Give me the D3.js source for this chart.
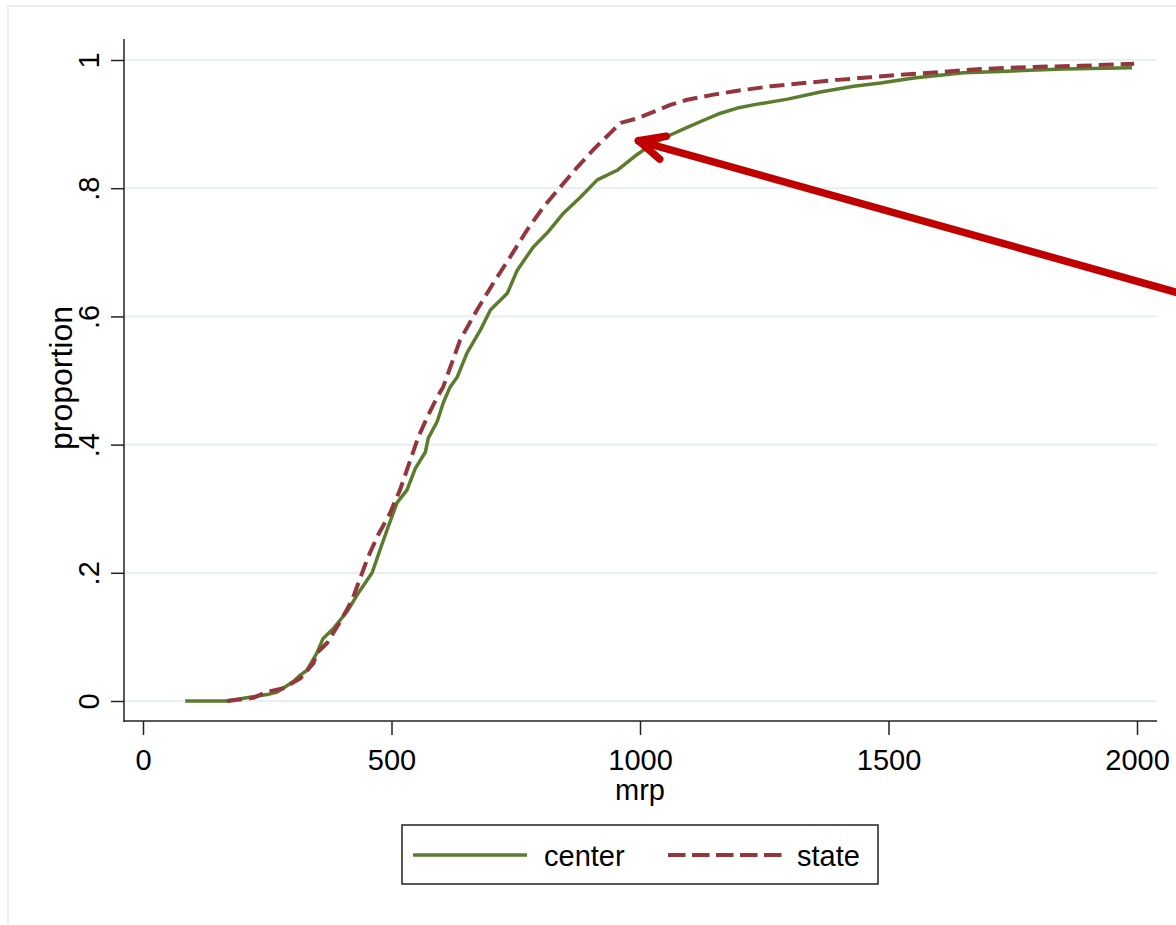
<!DOCTYPE html>
<html>
<head>
<meta charset="utf-8">
<script src="https://cdn.jsdelivr.net/npm/d3@7"></script>
<style>
  html, body { margin: 0; padding: 0; background: #fff; }
  svg { display: block; font-family: "Liberation Sans", Arial, sans-serif; }
</style>
</head>
<body>
<div id="chart"></div>
<script>
  // cumulative distribution of mrp
  var centerX = [85, 169, 215, 250, 270, 302, 316, 330, 350, 362, 383, 411, 433, 461, 477, 493, 511, 531, 548, 568,
    574, 592, 604, 618, 632, 652, 679, 699, 733, 753, 785, 813, 846, 880, 914, 954, 995, 1027, 1061, 1095,
    1128, 1162, 1196, 1228, 1297, 1363, 1430, 1484, 1551, 1651, 1752, 1853, 1990];
  var centerP = [0, 0, 0.006, 0.01, 0.014, 0.03, 0.04, 0.048, 0.075, 0.097, 0.113, 0.14, 0.168, 0.2, 0.236, 0.271, 0.309, 0.329, 0.363, 0.388,
    0.41, 0.436, 0.465, 0.49, 0.505, 0.543, 0.579, 0.61, 0.636, 0.672, 0.708, 0.73, 0.761, 0.786, 0.813, 0.828, 0.853, 0.87, 0.883, 0.895,
    0.906, 0.917, 0.925, 0.93, 0.939, 0.95, 0.959, 0.964, 0.972, 0.98, 0.983, 0.986, 0.988];

  var stateX = [169, 222, 249, 282, 316, 343, 350, 370, 397, 421, 441, 453, 473, 497, 517, 538, 554, 572, 592, 604,
    638, 672, 705, 739, 773, 806, 840, 874, 906, 940, 961, 995, 1027, 1061, 1095, 1148, 1196, 1263, 1329, 1397,
    1464, 1524, 1585, 1686, 1786, 1887, 1994];
  var stateP = [0, 0.005, 0.014, 0.02, 0.035, 0.059, 0.075, 0.09, 0.124, 0.158, 0.2, 0.225, 0.259, 0.293, 0.329, 0.376, 0.412, 0.443, 0.474, 0.49,
    0.563, 0.61, 0.652, 0.693, 0.735, 0.771, 0.802, 0.833, 0.86, 0.886, 0.902, 0.909, 0.919, 0.93, 0.938, 0.946, 0.952, 0.959, 0.964, 0.969,
    0.973, 0.977, 0.98, 0.986, 0.989, 0.991, 0.994];

  var xTicks = [0, 500, 1000, 1500, 2000];
  var yTicks = [0, 0.2, 0.4, 0.6, 0.8, 1];
  var yTickLabels = ["0", ".2", ".4", ".6", ".8", "1"];
  var seriesNames = ["center", "state"];

  // annotation arrow: tail (off to the right) -> tip
  var arrowFrom = [2100, 0.633];
  var arrowTo = [997, 0.874];

  var W = 1176, H = 925;
  var green = "#5b7c2d", maroon = "#93363d", gridCol = "#e7eff1", fs = 29;

  var svg = d3.select("#chart").append("svg")
    .attr("width", W)
    .attr("height", H);

  svg.append("rect").attr("width", W).attr("height", H).attr("fill", "#fff");
  // outer graph region border
  svg.append("rect")
    .attr("x", 8).attr("y", 6)
    .attr("width", W + 20).attr("height", H + 20)
    .attr("fill", "#fff")
    .attr("stroke", "#e8f0f2")
    .attr("stroke-width", 2);

  var x = d3.scaleLinear().domain([0, 2000]).range([143, 1137]);
  var y = d3.scaleLinear().domain([0, 1]).range([701, 60]);
  var axisLeftX = 124, axisBottomY = 721, plotRight = 1157;

  // gridlines
  svg.append("g").selectAll("line")
    .data(yTicks)
    .join("line")
    .attr("x1", axisLeftX)
    .attr("x2", plotRight)
    .attr("y1", function (d) { return y(d); })
    .attr("y2", function (d) { return y(d); })
    .attr("stroke", gridCol)
    .attr("stroke-width", 2.2);

  // y axis
  var yAxis = svg.append("g")
    .attr("transform", "translate(" + axisLeftX + ",0)")
    .call(d3.axisLeft(y).tickValues(yTicks).tickSize(13).tickSizeOuter(0)
      .tickFormat(function (d, i) { return yTickLabels[i]; }));
  yAxis.select(".domain").remove();
  yAxis.selectAll(".tick line").attr("stroke", "#222").attr("stroke-width", 1.5);
  yAxis.selectAll(".tick text")
    .attr("transform", "rotate(-90)")
    .attr("x", 0)
    .attr("y", -25)
    .attr("dy", 0)
    .attr("text-anchor", "middle")
    .attr("font-size", fs)
    .attr("font-family", "Liberation Sans, Arial, sans-serif")
    .attr("fill", "#000");
  svg.append("line")
    .attr("x1", axisLeftX).attr("x2", axisLeftX)
    .attr("y1", 39).attr("y2", axisBottomY + 0.75)
    .attr("stroke", "#222").attr("stroke-width", 1.5);

  // x axis
  var xAxis = svg.append("g")
    .attr("transform", "translate(0," + axisBottomY + ")")
    .call(d3.axisBottom(x).tickValues(xTicks).tickSize(14).tickSizeOuter(0)
      .tickFormat(d3.format("d")));
  xAxis.select(".domain").remove();
  xAxis.selectAll(".tick line").attr("stroke", "#222").attr("stroke-width", 1.5);
  xAxis.selectAll(".tick text")
    .attr("y", 49)
    .attr("dy", 0)
    .attr("font-size", fs)
    .attr("font-family", "Liberation Sans, Arial, sans-serif")
    .attr("fill", "#000");
  svg.append("line")
    .attr("x1", axisLeftX - 0.75).attr("x2", plotRight)
    .attr("y1", axisBottomY).attr("y2", axisBottomY)
    .attr("stroke", "#222").attr("stroke-width", 1.5);

  // axis titles
  svg.append("text")
    .attr("transform", "translate(72,378) rotate(-90)")
    .attr("text-anchor", "middle")
    .attr("font-size", 32)
    .text("proportion");
  svg.append("text")
    .attr("x", 640).attr("y", 800)
    .attr("text-anchor", "middle")
    .attr("font-size", fs)
    .text("mrp");

  // cdf lines
  var line = d3.line()
    .x(function (d) { return x(d[0]); })
    .y(function (d) { return y(d[1]); });

  var centerData = centerX.map(function (v, i) { return [v, centerP[i]]; });
  var stateData = stateX.map(function (v, i) { return [v, stateP[i]]; });

  svg.append("path")
    .datum(centerData)
    .attr("d", line)
    .attr("fill", "none")
    .attr("stroke", green)
    .attr("stroke-width", 3.5)
    .attr("stroke-linejoin", "round");

  svg.append("path")
    .datum(stateData)
    .attr("d", line)
    .attr("fill", "none")
    .attr("stroke", maroon)
    .attr("stroke-width", 4)
    .attr("stroke-dasharray", "15,7")
    .attr("stroke-linejoin", "round");

  // arrow annotation
  var tx = x(arrowTo[0]), ty = y(arrowTo[1]);
  var fx = x(arrowFrom[0]), fy = y(arrowFrom[1]);
  var ang = Math.atan2(fy - ty, fx - tx);
  var barbLen = 28, barbAng = 25 * Math.PI / 180;
  var arrow = svg.append("g")
    .attr("stroke", "#c00000")
    .attr("stroke-width", 7.5)
    .attr("stroke-linecap", "round")
    .attr("fill", "none");
  arrow.append("line")
    .attr("x1", fx).attr("y1", fy)
    .attr("x2", tx).attr("y2", ty);
  [-1, 1].forEach(function (s) {
    arrow.append("line")
      .attr("x1", tx).attr("y1", ty)
      .attr("x2", tx + barbLen * Math.cos(ang + s * barbAng))
      .attr("y2", ty + barbLen * Math.sin(ang + s * barbAng));
  });

  // legend
  var leg = svg.append("g");
  leg.append("rect")
    .attr("x", 402).attr("y", 825)
    .attr("width", 476).attr("height", 59)
    .attr("fill", "#fff")
    .attr("stroke", "#222")
    .attr("stroke-width", 1.5);
  leg.append("line")
    .attr("x1", 413).attr("x2", 527).attr("y1", 855).attr("y2", 855)
    .attr("stroke", green).attr("stroke-width", 3.5);
  leg.append("line")
    .attr("x1", 668).attr("x2", 782).attr("y1", 855).attr("y2", 855)
    .attr("stroke", maroon).attr("stroke-width", 4)
    .attr("stroke-dasharray", "17.5,6.5");
  leg.append("text").attr("x", 544).attr("y", 866).attr("font-size", fs).text(seriesNames[0]);
  leg.append("text").attr("x", 797).attr("y", 866).attr("font-size", fs).text(seriesNames[1]);
</script>
</body>
</html>
